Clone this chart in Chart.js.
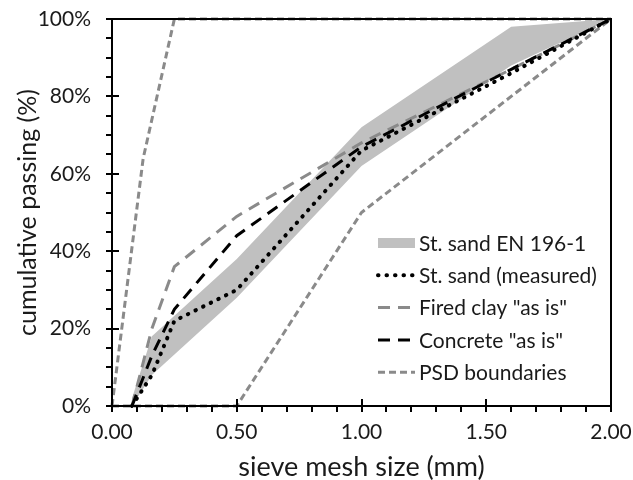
<!DOCTYPE html>
<html><head><meta charset="utf-8">
<script src="https://cdn.jsdelivr.net/npm/chart.js@4/dist/chart.umd.min.js"></script>
<style>html,body{margin:0;padding:0;background:#fff}#wrap{width:633px;height:480px;position:relative}</style>
</head><body><div id="wrap"><canvas id="c" width="633" height="480"></canvas></div>
<script>
// ---- data ----
const sieves = [0.08, 0.16, 0.25, 0.5, 1.0, 1.6, 2.0];
const measured = [0, 8, 22, 30, 66, 86, 100];
const firedClay = [0, 20, 36, 49, 68, 87, 100];
const concrete = [0, 13, 25, 44, 67, 87, 100];
const enSieves = [0.08, 0.16, 0.5, 1.0, 1.6, 2.0];
const enUpper = [2, 18, 38, 72, 98, 100];
const enLower = [0, 8, 28, 62, 88, 100];
const psdFineX = [0, 0.125, 0.25, 2.0];
const psdFineY = [0, 64, 100, 100];
const psdCoarseX = [0, 0.5, 1.0, 2.0];
const psdCoarseY = [0, 0, 50, 100];
const legendLabels = ['St. sand EN 196-1', 'St. sand (measured)', 'Fired clay "as is"', 'Concrete "as is"', 'PSD boundaries'];
const xTickValues = [0, 0.5, 1.0, 1.5, 2.0];
const yTickValues = [0, 20, 40, 60, 80, 100];
const xTitle = 'sieve mesh size (mm)';
const yTitle = 'cumulative passing (%)';

const pts = (xs, ys) => xs.map((v, i) => ({x: v, y: ys[i]}));
const FONT = 'Lato';
const TXT = '#1a1a1a';
const GRAY = '#8a8a8a';
const BAND = '#c0c0c0';

const base = {pointRadius: 0, pointHoverRadius: 0, tension: 0, fill: false, clip: 6};
const datasets = [
  Object.assign({}, base, {label: legendLabels[1], data: pts(sieves, measured), borderColor: '#000', borderWidth: 4, borderDash: [0.5, 8], borderCapStyle: 'round'}),
  Object.assign({}, base, {label: legendLabels[3], data: pts(sieves, concrete), borderColor: '#000', borderWidth: 3, borderDash: [12, 8]}),
  Object.assign({}, base, {label: legendLabels[2], data: pts(sieves, firedClay), borderColor: GRAY, borderWidth: 3, borderDash: [12, 8]}),
  Object.assign({}, base, {label: legendLabels[4], data: pts(psdFineX, psdFineY), borderColor: GRAY, borderWidth: 3, borderDash: [7, 4]}),
  Object.assign({}, base, {label: legendLabels[4] + ' ', data: pts(psdCoarseX, psdCoarseY), borderColor: GRAY, borderWidth: 3, borderDash: [7, 4]}),
  Object.assign({}, base, {label: legendLabels[0], data: pts(enSieves, enUpper), borderWidth: 0, borderColor: BAND, backgroundColor: BAND, fill: '+1'}),
  Object.assign({}, base, {label: legendLabels[0] + ' ', data: pts(enSieves, enLower), borderWidth: 0, borderColor: BAND, backgroundColor: BAND})
];

const decor = {
  id: 'decor',
  afterDatasetsDraw(chart) {
    const {ctx, chartArea: a, scales: {x, y}} = chart;
    ctx.save();
    ctx.strokeStyle = '#000';
    ctx.lineWidth = 2;
    ctx.setLineDash([]);
    ctx.strokeRect(a.left, a.top, a.right - a.left, a.bottom - a.top);
    for (let v = y.min; v <= y.max; v += 5) {
      const py = Math.round(y.getPixelForValue(v));
      const major = v % 20 === 0;
      ctx.beginPath();
      ctx.moveTo(a.left - 6, py);
      ctx.lineTo(major ? a.left + 7 : a.left, py);
      ctx.stroke();
    }
    for (let i = 0; i <= 20; i++) {
      const px = Math.round(x.getPixelForValue(i / 10));
      const major = i % 5 === 0;
      ctx.beginPath();
      ctx.moveTo(px, a.bottom + 6);
      ctx.lineTo(px, major ? a.bottom - 7 : a.bottom);
      ctx.stroke();
    }
    const lx0 = 378, lx1 = 415, tx = 419, ly0 = 243, dy = 32.3;
    ctx.font = '21px ' + FONT;
    ctx.textBaseline = 'middle';
    ctx.textAlign = 'left';
    legendLabels.forEach((lab, i) => {
      const ly = ly0 + i * dy;
      const ds = chart.data.datasets.find(d => d.label === lab);
      if (i === 0) {
        ctx.fillStyle = BAND;
        ctx.fillRect(lx0, ly - 5, lx1 - lx0, 10);
      } else {
        ctx.beginPath();
        ctx.strokeStyle = ds.borderColor;
        ctx.lineWidth = ds.borderWidth;
        ctx.lineCap = ds.borderCapStyle || 'butt';
        ctx.setLineDash(ds.borderDash || []);
        ctx.moveTo(lx0, ly);
        ctx.lineTo(lx1, ly);
        ctx.stroke();
        ctx.setLineDash([]);
        ctx.lineCap = 'butt';
      }
      ctx.fillStyle = TXT;
      ctx.fillText(lab, tx, ly + 1);
    });
    ctx.restore();
  }
};

new Chart(document.getElementById('c'), {
  type: 'line',
  data: {datasets},
  plugins: [decor],
  options: {
    responsive: false,
    animation: false,
    devicePixelRatio: 1,
    layout: {padding: {top: 19, right: 22, left: 0, bottom: 0}},
    plugins: {legend: {display: false}, tooltip: {enabled: false}},
    scales: {
      x: {
        type: 'linear', min: 0, max: 2,
        afterFit(s) { s.height = 74; s.paddingLeft = 0; s.paddingRight = 0; },
        afterBuildTicks(s) { s.ticks = xTickValues.map(v => ({value: v})); },
        ticks: {callback: v => v.toFixed(2), font: {family: FONT, size: 21}, color: TXT, padding: 14, maxRotation: 0, autoSkip: false},
        grid: {display: false, drawTicks: false},
        border: {display: false},
        title: {display: true, text: xTitle, font: {family: FONT, size: 27}, color: TXT, padding: {top: 0, bottom: -3}}
      },
      y: {
        type: 'linear', min: 0, max: 100,
        afterFit(s) { s.width = 112; s.paddingTop = 0; s.paddingBottom = 0; },
        afterBuildTicks(s) { s.ticks = yTickValues.map(v => ({value: v})); },
        ticks: {callback: v => v + '%', font: {family: FONT, size: 21}, color: TXT, padding: 21, autoSkip: false},
        grid: {display: false, drawTicks: false},
        border: {display: false},
        title: {display: true, text: yTitle, font: {family: FONT, size: 25}, color: TXT, padding: {top: 13, bottom: 0}}
      }
    }
  }
});
</script>
</body></html>
